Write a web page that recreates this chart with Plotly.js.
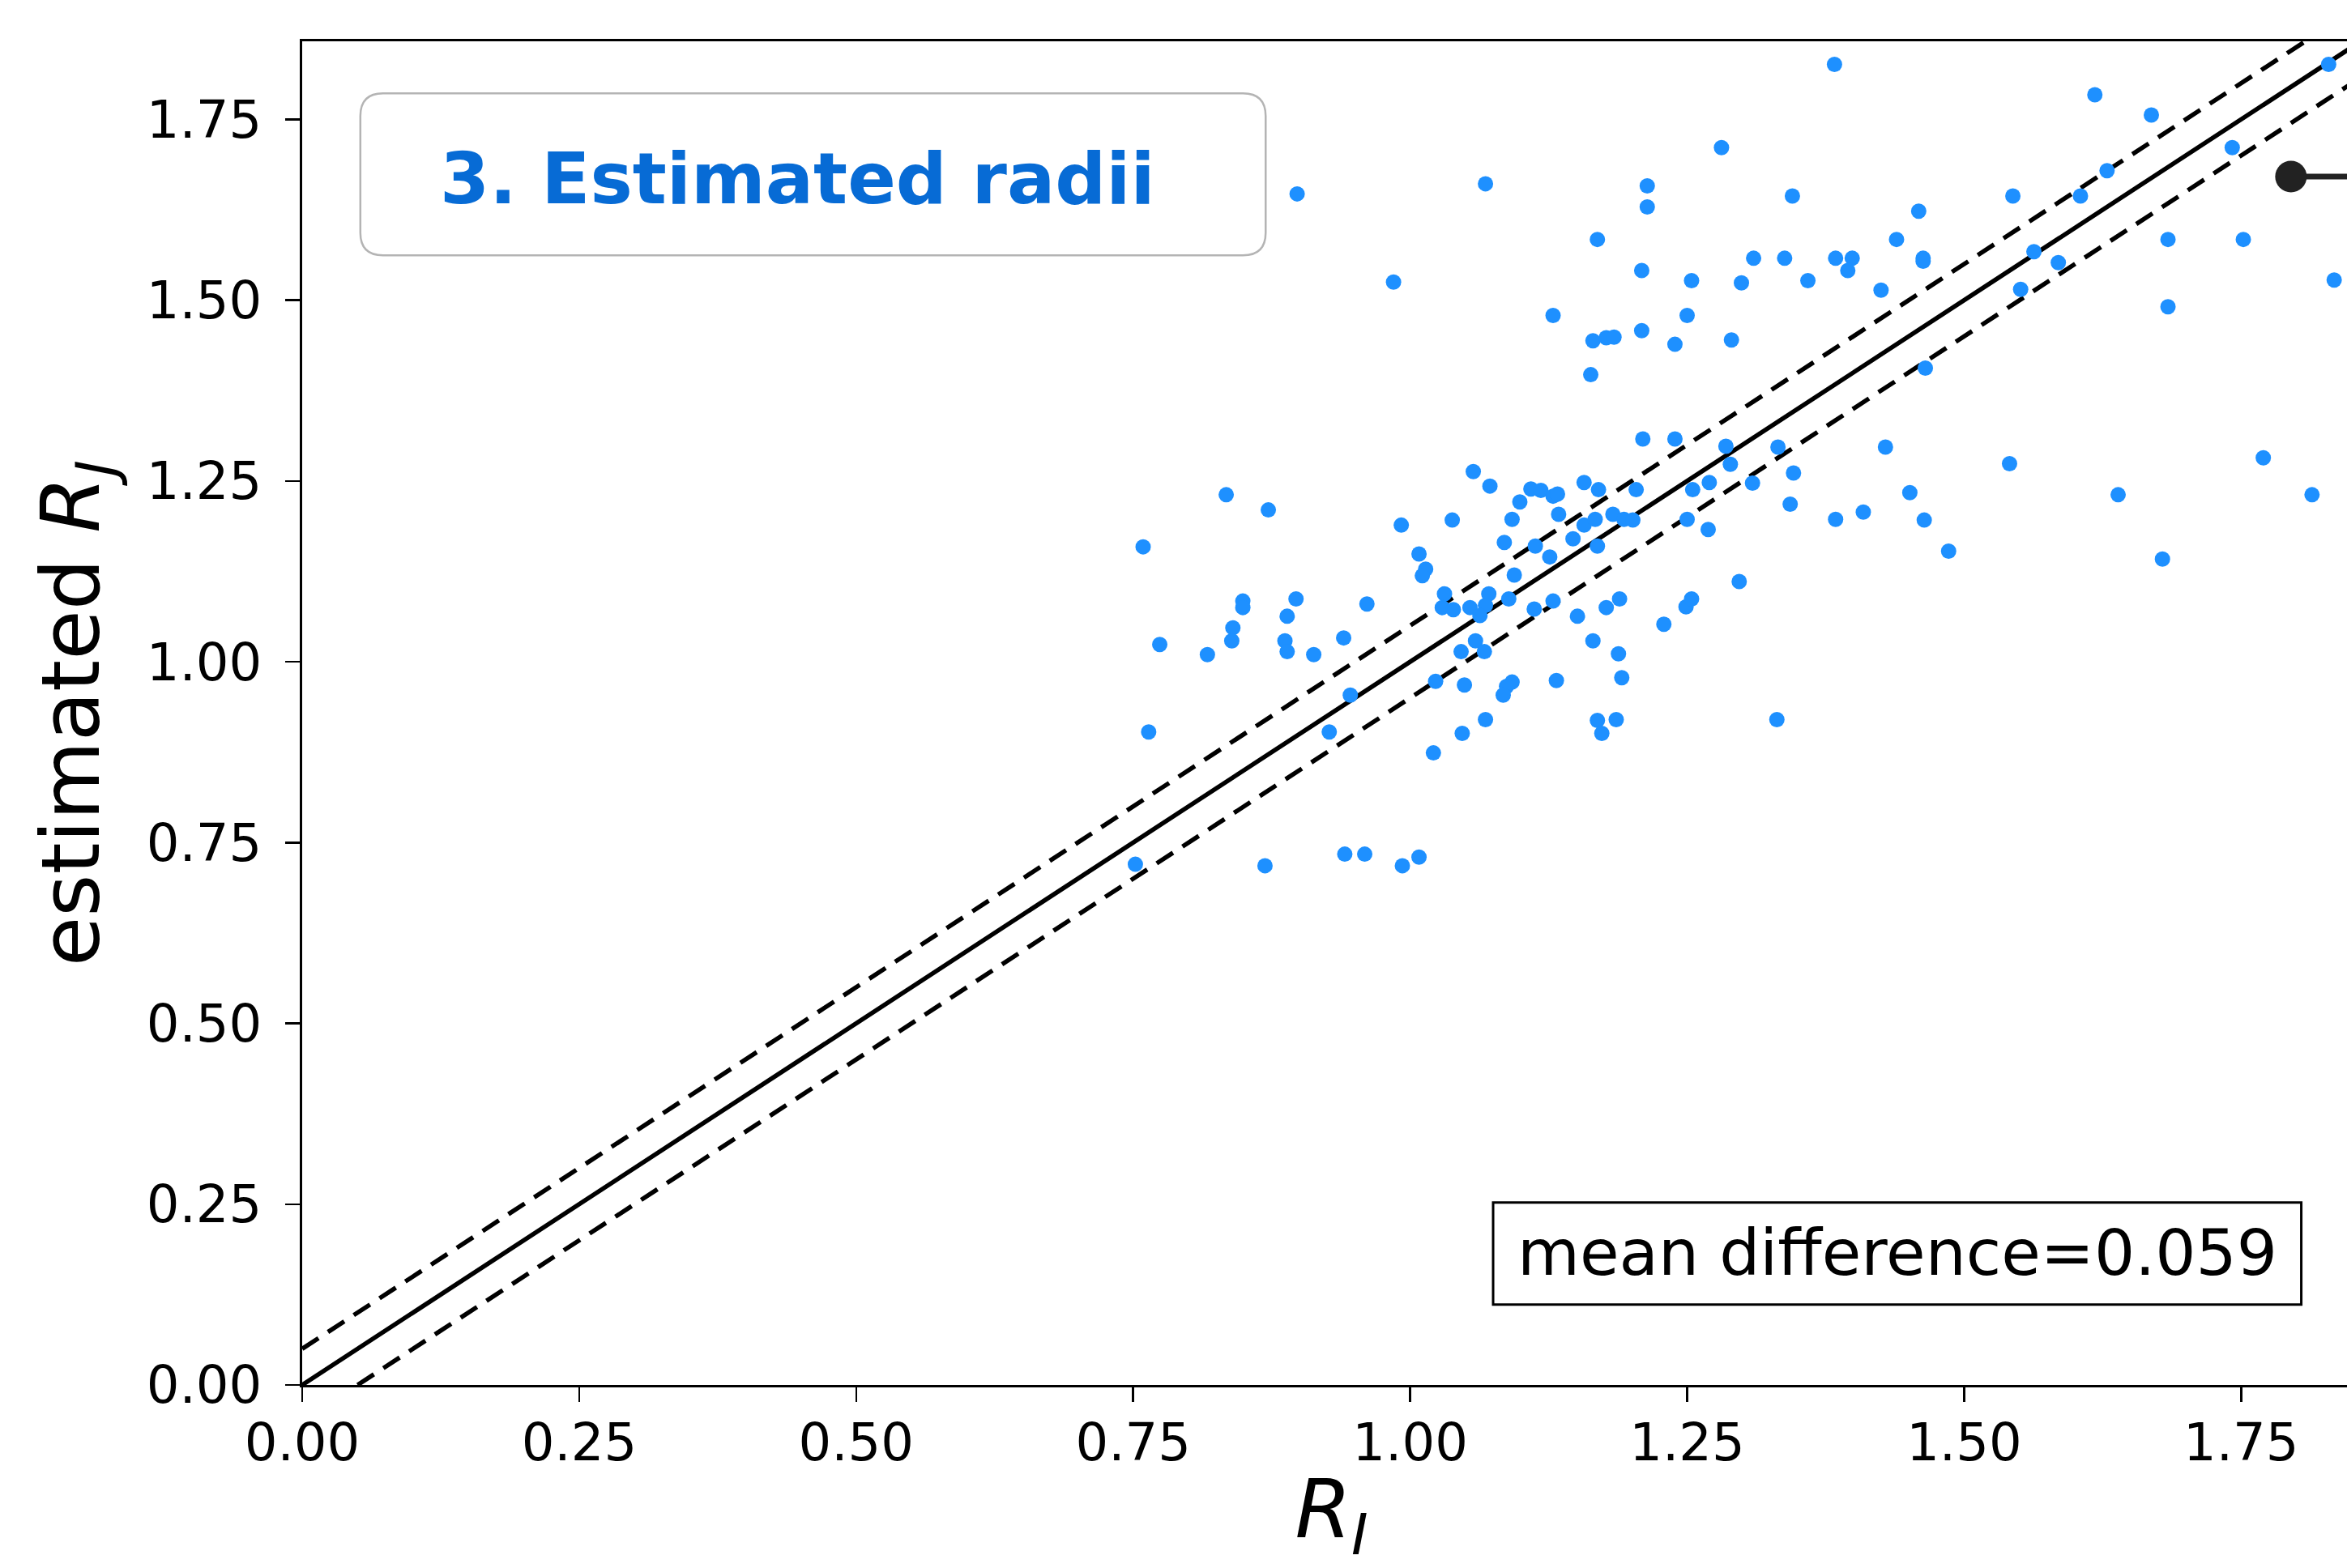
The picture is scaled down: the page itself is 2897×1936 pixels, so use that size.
<!DOCTYPE html>
<html>
<head>
<meta charset="utf-8">
<script src="https://cdn.plot.ly/plotly-3.0.1.min.js"></script>
<style>
  html, body { margin: 0; padding: 0; background: #ffffff; overflow: hidden; }
  #chart { width: 2964px; height: 1936px; }
</style>
</head>
<body>
<div id="chart"></div>
<script>
// ---- data ----
const rTrue = [
  1.057,1.072,1.109,1.099,1.092,1.038,0.992,0.834,0.872,0.759,1.085,1.008,1.014,1.011,1.094,1.113,
  1.031,1.071,1.089,1.029,1.039,1.054,1.068,1.063,1.112,0.849,0.849,0.897,0.961,0.889,0.840,0.839,
  0.887,0.889,0.774,0.817,0.913,0.940,1.059,1.067,1.046,1.023,1.049,1.092,1.087,1.084,0.946,1.068,
  1.047,1.021,0.927,0.764,0.752,0.869,0.941,0.959,0.993,1.008,
  1.289,1.346,1.157,1.170,1.204,1.270,1.255,1.309,1.118,1.129,1.133,1.343,1.134,1.157,1.167,1.183,
  1.193,1.201,1.250,1.269,1.384,1.409,1.451,1.464,1.486,1.147,1.169,1.126,1.297,1.129,1.151,1.177,
  1.189,1.229,1.249,1.254,1.165,1.188,1.132,1.191,1.169,1.186,1.173,1.331,
  1.383,1.281,1.214,1.214,1.345,1.459,1.169,1.439,1.209,1.310,1.338,1.384,1.399,1.395,1.463,1.463,
  1.254,1.299,1.359,1.425,1.129,1.250,1.165,1.177,1.184,1.209,1.239,1.290,1.163,1.465,1.210,1.239,
  1.285,1.332,1.429,
  1.829,1.618,1.669,1.742,1.629,1.544,1.605,1.684,1.752,1.563,1.585,1.551,1.684,1.834,1.541,1.770,
  1.639,1.814,1.679,
  0.898,1.068,0.985
];
const rEstimated = [
  1.263,1.243,1.239,1.221,1.197,1.196,1.189,1.231,1.210,1.159,1.165,1.149,1.128,1.119,1.120,1.160,
  1.094,1.094,1.087,1.075,1.072,1.075,1.078,1.064,1.073,1.084,1.075,1.087,1.080,1.063,1.047,1.029,
  1.029,1.014,1.024,1.010,1.010,1.033,1.029,1.014,1.014,0.973,0.968,0.972,0.966,0.954,0.954,0.920,
  0.901,0.874,0.903,0.903,0.720,0.718,0.734,0.734,0.718,0.730,
  1.273,1.261,1.248,1.238,1.238,1.248,1.238,1.247,1.237,1.229,1.232,1.218,1.204,1.189,1.197,1.204,
  1.197,1.196,1.197,1.183,1.197,1.207,1.234,1.196,1.153,1.170,1.160,1.145,1.111,1.084,1.063,1.075,
  1.087,1.052,1.076,1.087,1.029,1.011,0.974,0.978,0.919,0.920,0.901,0.920,
  1.826,1.711,1.658,1.629,1.644,1.623,1.584,1.584,1.541,1.558,1.558,1.558,1.558,1.541,1.558,1.554,
  1.527,1.524,1.527,1.514,1.479,1.479,1.444,1.448,1.449,1.458,1.439,1.445,1.397,1.406,1.308,1.308,
  1.298,1.297,1.297,
  1.826,1.784,1.756,1.711,1.679,1.644,1.644,1.584,1.584,1.567,1.552,1.515,1.491,1.528,1.274,1.282,
  1.231,1.231,1.142,
  1.647,1.661,1.525
];
const diagX = [0, 2];
const bandOffset = 0.05;
const meanDifference = 0.059;
const pointerX = [1.795, 2.0];
const pointerY = [1.671, 1.671];
const tickValues = [0, 0.25, 0.5, 0.75, 1.0, 1.25, 1.5, 1.75];
const panelTitle = "3. Estimated radii";

// ---- traces ----
const font = "DejaVu Sans, Liberation Sans, sans-serif";
const traces = [
  {x: diagX, y: diagX, mode: "lines", line: {color: "#000", width: 5.5}, hoverinfo: "skip"},
  {x: diagX, y: diagX.map(v => v + bandOffset), mode: "lines",
   line: {color: "#000", width: 5.5, dash: "24px,14px"}, hoverinfo: "skip"},
  {x: diagX.map(v => v + bandOffset), y: diagX, mode: "lines",
   line: {color: "#000", width: 5.5, dash: "24px,14px"}, hoverinfo: "skip"},
  {x: rTrue, y: rEstimated, mode: "markers",
   marker: {color: "#1e90ff", size: 19, opacity: 1, line: {width: 0}}},
  {x: pointerX, y: pointerY, mode: "lines", line: {color: "#222222", width: 7}},
  {x: pointerX.slice(0, 1), y: pointerY.slice(0, 1), mode: "markers",
   marker: {color: "#222222", size: 39, opacity: 1, line: {width: 0}}}
];

// rounded title box (data coordinates)
const bx0 = 0.0525, bx1 = 0.8696, by0 = 1.562, by1 = 1.786, rx = 0.0205, ry = 0.0314;
const roundPath = `M ${bx0+rx},${by1} L ${bx1-rx},${by1} Q ${bx1},${by1} ${bx1},${by1-ry} ` +
  `L ${bx1},${by0+ry} Q ${bx1},${by0} ${bx1-rx},${by0} L ${bx0+rx},${by0} ` +
  `Q ${bx0},${by0} ${bx0},${by0+ry} L ${bx0},${by1-ry} Q ${bx0},${by1} ${bx0+rx},${by1} Z`;

const axisCommon = {
  showgrid: false, zeroline: false,
  showline: true, linecolor: "#000", linewidth: 3, mirror: true,
  ticks: "outside", ticklen: 18, tickwidth: 2.5, tickcolor: "#000",
  tickvals: tickValues, tickformat: ".2f",
  tickfont: {family: font, size: 64, color: "#000"}
};

const layout = {
  width: 2964, height: 1936,
  margin: {l: 373, r: 50, t: 51, b: 226},
  paper_bgcolor: "#ffffff", plot_bgcolor: "#ffffff",
  showlegend: false,
  xaxis: Object.assign({}, axisCommon, {
    range: [0, 1.858], ticklabelstandoff: -5,
    title: {text: "<i>R<sub>I</sub></i>", font: {family: font, size: 100, color: "#000"}, standoff: 31}
  }),
  yaxis: Object.assign({}, axisCommon, {
    range: [0, 1.858], ticklabelstandoff: 16,
    title: {text: "estimated <i>R<sub>J</sub></i>", font: {family: font, size: 100, color: "#000"}, standoff: 25}
  }),
  shapes: [
    {type: "path", path: roundPath, xref: "x", yref: "y",
     line: {color: "#b4b4b4", width: 2.5}, fillcolor: "#ffffff", layer: "above"},
    {type: "rect", xref: "x", yref: "y", x0: 1.0749, x1: 1.8043, y0: 0.1112, y1: 0.2523,
     line: {color: "#000", width: 3}, fillcolor: "#ffffff", layer: "above"}
  ],
  annotations: [
    {x: 0.447, y: 1.668, xref: "x", yref: "y", text: "<b>" + panelTitle + "</b>", showarrow: false,
     xanchor: "center", yanchor: "middle",
     font: {family: "DejaVu Sans, sans-serif", size: 88, color: "#076bd5"}},
    {x: 1.44, y: 0.182, xref: "x", yref: "y", text: "mean difference=" + meanDifference.toFixed(3),
     showarrow: false, xanchor: "center", yanchor: "middle",
     font: {family: font, size: 79, color: "#000"}}
  ]
};

Plotly.newPlot("chart", traces, layout, {staticPlot: true, displayModeBar: false});
</script>
</body>
</html>
